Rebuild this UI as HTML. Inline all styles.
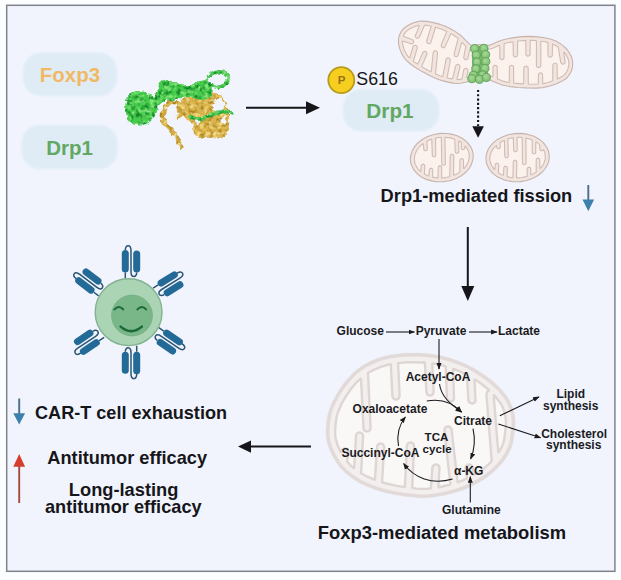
<!DOCTYPE html>
<html>
<head>
<meta charset="utf-8">
<title>Foxp3 Drp1 CAR-T schematic</title>
<style>
html,body{margin:0;padding:0;background:#fcfdfe;}
body{width:621px;height:580px;overflow:hidden;}
svg{display:block;}
text{font-family:"Liberation Sans",sans-serif;}
.b{font-weight:bold;}
.sm{font-size:12px;font-weight:bold;fill:#1b1b1f;}
</style>
</head>
<body>
<svg width="621" height="580" viewBox="0 0 621 580">
<defs>
  <marker id="ah" viewBox="0 0 10 10" refX="9" refY="5" markerWidth="6.6" markerHeight="6.6" orient="auto-start-reverse" markerUnits="userSpaceOnUse">
    <path d="M0,1.2 L10,5 L0,8.8 z" fill="#1b1b1f"/>
  </marker>
  <filter id="soft" x="-5%" y="-5%" width="110%" height="110%"><feGaussianBlur stdDeviation="0.5"/></filter>
  <filter id="soft2" x="-5%" y="-5%" width="110%" height="110%"><feGaussianBlur stdDeviation="1.2"/></filter>
  <filter id="protG" color-interpolation-filters="sRGB" x="-10%" y="-10%" width="120%" height="120%">
    <feTurbulence type="fractalNoise" baseFrequency="0.22" numOctaves="2" seed="7" result="n"/>
    <feDisplacementMap in="SourceGraphic" in2="n" scale="5.2" xChannelSelector="R" yChannelSelector="G" result="d"/>
    <feColorMatrix in="n" type="matrix" values="0 0 0 0 0.08  0 0 0 0 0.54  0 0 0 0 0.16  0 0 3.5 0 -1.55" result="dk"/>
    <feComposite in="dk" in2="d" operator="in" result="dkIn"/>
    <feColorMatrix in="n" type="matrix" values="0 0 0 0 0.53  0 0 0 0 0.90  0 0 0 0 0.49  0 3.5 0 0 -1.65" result="lt"/>
    <feComposite in="lt" in2="d" operator="in" result="ltIn"/>
    <feMerge><feMergeNode in="d"/><feMergeNode in="dkIn"/><feMergeNode in="ltIn"/></feMerge>
    <feGaussianBlur stdDeviation="0.5"/>
  </filter>
  <filter id="protY" color-interpolation-filters="sRGB" x="-10%" y="-10%" width="120%" height="120%">
    <feTurbulence type="fractalNoise" baseFrequency="0.22" numOctaves="2" seed="11" result="n"/>
    <feDisplacementMap in="SourceGraphic" in2="n" scale="5.2" xChannelSelector="R" yChannelSelector="G" result="d"/>
    <feColorMatrix in="n" type="matrix" values="0 0 0 0 0.66  0 0 0 0 0.51  0 0 0 0 0.13  0 0 3.5 0 -1.55" result="dk"/>
    <feComposite in="dk" in2="d" operator="in" result="dkIn"/>
    <feColorMatrix in="n" type="matrix" values="0 0 0 0 0.95  0 0 0 0 0.86  0 0 0 0 0.53  0 3.5 0 0 -1.65" result="lt"/>
    <feComposite in="lt" in2="d" operator="in" result="ltIn"/>
    <feMerge><feMergeNode in="d"/><feMergeNode in="dkIn"/><feMergeNode in="ltIn"/></feMerge>
    <feGaussianBlur stdDeviation="0.5"/>
  </filter>
  <radialGradient id="ballg" cx="45%" cy="40%" r="65%"><stop offset="0" stop-color="#a9d99b"/><stop offset="1" stop-color="#78ba69"/></radialGradient>
</defs>

<!-- frame -->
<rect x="0" y="0" width="621" height="580" fill="#fcfdfe"/>
<rect x="6.7" y="5.3" width="608.2" height="566" fill="#f1f4fd" stroke="#7f838b" stroke-width="1.5"/>

<!-- SECTION: labels-left -->
<g id="labels-left">
  <rect x="23" y="52.6" width="94" height="43.6" rx="18" fill="#dfecf6" filter="url(#soft2)"/>
  <text x="70" y="82" text-anchor="middle" class="b" font-size="20.5" fill="#f1b965">Foxp3</text>
  <rect x="21.5" y="125" width="96" height="44" rx="18" fill="#dfecf6" filter="url(#soft2)"/>
  <text x="69.5" y="155" text-anchor="middle" class="b" font-size="20.5" fill="#62a862">Drp1</text>
</g>

<!-- SECTION: protein -->
<g id="protein">
<g filter="url(#protY)">
<path d="M181.8,99.7 C184.2,98.1 187.9,96.6 191.4,95.8 C195.0,95.0 199.2,95.3 203.0,94.9 C206.9,94.4 211.2,92.3 214.6,92.9 C218.0,93.6 221.1,95.8 223.3,98.7 C225.6,101.6 227.2,106.1 228.1,110.3 C229.1,114.5 229.4,119.8 229.1,123.8 C228.8,127.9 228.0,132.0 226.2,134.5 C224.4,136.9 221.4,138.0 218.5,138.3 C215.6,138.7 211.7,136.4 208.8,136.4 C205.9,136.4 203.5,138.8 201.1,138.3 C198.7,137.8 195.8,135.9 194.3,133.5 C192.9,131.1 193.8,126.4 192.4,123.8 C190.9,121.3 188.0,119.8 185.6,118.0 C183.2,116.3 179.4,115.3 177.9,113.2 C176.5,111.1 176.3,107.7 176.9,105.5 C177.6,103.2 179.4,101.3 181.8,99.7Z M214.2,100.3 C215.5,98.7 218.7,97.9 220.4,98.7 C222.2,99.5 224.2,102.7 224.7,104.9 C225.2,107.1 224.7,110.4 223.5,111.9 C222.3,113.3 219.1,114.4 217.3,113.8 C215.5,113.1 213.2,110.2 212.7,108.0 C212.2,105.7 212.9,101.8 214.2,100.3Z M221.4,118.0 C222.2,117.3 224.6,116.6 225.4,117.3 C226.3,117.9 227.0,120.7 226.6,121.9 C226.2,123.1 224.3,124.3 223.3,124.2 C222.3,124.2 220.7,122.5 220.4,121.5 C220.1,120.5 220.5,118.7 221.4,118.0Z M195.3,120.0 C195.8,119.1 198.4,118.7 199.2,119.2 C199.9,119.7 200.4,122.2 199.9,123.1 C199.4,123.9 197.0,124.7 196.3,124.2 C195.5,123.7 194.8,120.8 195.3,120.0Z" fill="#dcb44a" fill-rule="evenodd"/>
<path d="M168.6,101.6 C167.9,102.9 165.0,106.3 164.0,109.3 C163.0,112.4 162.1,117.1 162.8,120.0 C163.6,122.9 166.7,124.4 168.6,126.7 C170.6,129.1 172.8,131.5 174.4,133.9 C176.0,136.3 177.1,139.0 178.3,141.2 C179.5,143.4 181.2,146.1 181.8,147.0" fill="none" stroke="#d4ac44" stroke-width="4.2" stroke-linecap="round"/>
<path d="M167.3,106.4 C168.4,105.6 171.8,101.8 174.0,101.6 C176.3,101.5 179.4,103.6 180.8,105.5 C182.3,107.3 183.2,110.7 182.7,112.6 C182.3,114.6 179.0,116.3 178.3,117.1" fill="none" stroke="#d4ac44" stroke-width="3" stroke-linecap="round"/>
</g>
<g filter="url(#protG)">
<path d="M126.7,98.7 C127.7,95.8 129.4,94.2 131.5,92.9 C133.6,91.6 136.7,91.0 139.3,91.0 C141.8,91.0 144.6,92.0 147.0,92.9 C149.4,93.9 152.0,97.1 153.7,96.8 C155.5,96.5 156.6,93.2 157.6,91.0 C158.6,88.7 158.3,85.1 159.5,83.3 C160.8,81.4 163.1,79.9 165.3,79.8 C167.6,79.6 170.3,81.5 173.1,82.3 C175.8,83.1 178.7,84.4 181.8,84.8 C184.8,85.2 188.5,85.4 191.4,84.8 C194.3,84.2 196.7,82.1 199.2,81.3 C201.6,80.6 204.0,79.9 205.9,80.4 C207.9,80.8 209.8,82.5 210.8,84.2 C211.7,86.0 212.0,88.7 211.7,91.0 C211.4,93.2 210.6,96.3 208.8,97.7 C207.0,99.2 203.7,99.8 201.1,99.7 C198.5,99.5 196.3,97.3 193.4,96.8 C190.5,96.2 186.9,95.9 183.7,96.4 C180.5,96.9 176.9,99.1 174.0,99.7 C171.1,100.2 168.7,99.0 166.3,99.7 C163.9,100.3 161.2,101.5 159.5,103.5 C157.9,105.6 157.9,109.5 156.6,112.2 C155.4,115.0 153.9,117.9 151.8,120.0 C149.7,122.1 146.8,124.0 144.1,124.8 C141.3,125.6 138.0,125.6 135.4,124.8 C132.8,124.0 130.3,122.4 128.6,120.0 C127.0,117.6 125.7,113.9 125.3,110.3 C125.0,106.8 125.7,101.6 126.7,98.7Z" fill="#45cb4a"/>
<path d="M205.9,81.3 C205.5,79.5 208.3,76.1 210.4,74.6 C212.5,73.0 215.8,72.3 218.5,72.0 C221.1,71.8 224.5,72.1 226.2,73.2 C227.9,74.3 228.7,76.6 228.5,78.4 C228.4,80.3 226.9,82.8 225.2,84.2 C223.6,85.7 220.5,86.9 218.5,87.1 C216.5,87.3 215.2,86.5 213.1,85.6 C211.0,84.6 206.4,83.2 205.9,81.3Z" fill="none" stroke="#48c64e" stroke-width="3.3"/>
<path d="M189.9,116.5 C191.4,116.9 196.0,119.1 199.2,119.0 C202.3,118.9 205.6,117.2 208.8,116.1 C212.0,115.0 215.6,113.4 218.5,112.6 C221.4,111.8 224.0,111.1 226.2,111.3 C228.5,111.4 231.0,113.0 232.0,113.4" fill="none" stroke="#48c64e" stroke-width="3.6" stroke-linecap="round"/>
</g>
</g><!--/protein-->

<!-- SECTION: arrows-main -->
<g id="arrows-main" stroke="#16161a" fill="#16161a">
  <line x1="246" y1="107.7" x2="308" y2="107.7" stroke-width="2"/>
  <path d="M306,101.2 L320,107.7 L306,114.2 z" stroke="none"/>
  <line x1="467.8" y1="227" x2="467.8" y2="288" stroke-width="2"/>
  <path d="M461.3,286 L467.8,301 L474.3,286 z" stroke="none"/>
  <line x1="311" y1="446.6" x2="250" y2="446.6" stroke-width="2"/>
  <path d="M251,440.4 L238,446.6 L251,452.8 z" stroke="none"/>
</g>

<!-- SECTION: drp1-right -->
<g id="drp1-right">
  <rect x="343" y="89.3" width="96" height="42" rx="18" fill="#dfecf6" filter="url(#soft2)"/>
  <text x="390" y="118.2" text-anchor="middle" class="b" font-size="20.8" fill="#62a862">Drp1</text>
  <circle cx="341.3" cy="80.1" r="13" fill="#f6ce1f" stroke="#b79c1c" stroke-width="1.8"/>
  <text x="341.5" y="84.2" text-anchor="middle" class="b" font-size="11.5" fill="#94701a">P</text>
  <text x="356.3" y="85.3" font-size="17.8" fill="#16161a">S616</text>
</g>

<!-- SECTION: mito-top -->
<g id="mito-top">
<path d="M398.5,43.2 L399.2,46.9 L400.0,49.6 L401.7,53.6 L403.1,56.1 L404.7,58.5 L406.6,60.6 L411.1,64.5 L415.0,67.2 L422.2,71.6 L428.6,75.1 L433.7,77.4 L438.5,79.4 L443.2,80.9 L447.9,82.1 L453.6,83.1 L457.4,83.5 L460.5,83.3 L467.5,81.8 L478.5,80.8 L483.2,79.4 L485.4,79.1 L487.4,79.3 L489.7,80.0 L498.3,83.6 L503.1,85.3 L510.3,86.6 L518.3,87.5 L526.2,87.9 L536.3,88.1 L542.6,87.6 L549.0,86.3 L556.0,83.9 L561.1,81.6 L565.5,79.0 L567.6,77.0 L570.1,73.6 L571.8,69.8 L572.6,66.0 L572.7,62.3 L572.0,58.5 L570.5,54.7 L567.5,50.0 L563.6,46.1 L560.0,43.4 L555.8,41.1 L551.2,39.3 L545.9,38.0 L538.1,36.9 L530.0,36.4 L522.0,36.6 L512.0,37.9 L503.2,39.7 L498.9,41.3 L491.5,44.5 L489.3,45.1 L485.6,45.4 L479.5,44.6 L474.5,45.5 L472.3,45.5 L470.7,44.9 L469.0,43.7 L460.5,35.2 L455.8,31.9 L450.5,28.8 L444.8,26.1 L440.2,24.4 L433.5,22.6 L426.9,21.4 L421.4,21.1 L419.1,21.3 L415.9,22.1 L412.9,23.1 L409.1,24.8 L404.8,27.5 L402.0,30.3 L400.9,31.9 L399.6,34.7 L398.5,38.7Z" fill="#f2e4de" stroke="#c6b4ac" stroke-width="1.1" stroke-linejoin="round"/><path d="M402.8,40.9 L402.5,41.0 L402.3,41.3 L402.5,43.7 L404.1,49.5 L406.4,54.1 L407.8,56.1 L409.3,57.7 L409.8,57.5 L413.2,46.3 L414.1,45.6 L415.2,45.3 L416.3,45.6 L417.0,46.5 L417.3,47.6 L417.2,48.1 L413.7,60.0 L413.2,61.0 L413.5,61.4 L417.3,64.0 L417.9,63.8 L423.1,52.2 L424.0,51.6 L424.6,51.4 L425.7,51.6 L426.6,52.3 L427.0,53.4 L426.8,54.5 L421.6,66.6 L425.6,69.0 L430.8,71.8 L431.3,71.4 L433.2,52.2 L433.9,51.3 L434.9,50.8 L436.1,50.9 L437.0,51.6 L437.5,52.6 L437.5,53.2 L435.5,73.8 L435.8,74.1 L439.8,75.7 L442.4,76.6 L442.8,76.4 L446.1,59.2 L446.4,58.7 L447.4,58.0 L448.5,57.9 L449.5,58.4 L450.2,59.4 L450.3,60.5 L447.1,77.6 L447.4,78.0 L452.1,78.9 L452.6,78.6 L455.7,66.0 L456.2,65.0 L457.2,64.4 L458.3,64.4 L459.3,64.9 L459.7,65.4 L460.0,66.5 L457.0,79.1 L457.1,79.4 L457.4,79.6 L459.9,79.4 L461.9,78.9 L463.9,69.5 L464.7,68.7 L465.8,68.3 L467.4,68.9 L468.1,70.4 L466.7,77.5 L467.0,77.9 L478.0,76.9 L482.3,75.6 L484.5,75.2 L488.0,75.4 L492.7,76.8 L492.9,76.4 L493.0,66.8 L494.0,65.5 L495.1,65.2 L496.6,65.8 L497.2,66.8 L497.4,78.9 L502.7,81.1 L505.6,81.9 L509.0,82.5 L509.3,82.1 L509.4,66.8 L510.0,65.8 L511.5,65.2 L513.0,65.8 L513.6,66.8 L513.7,82.8 L513.9,83.1 L522.6,83.9 L523.7,83.7 L523.8,68.3 L524.4,66.7 L526.0,66.1 L527.6,66.7 L528.2,68.3 L528.3,84.0 L534.7,84.2 L538.2,84.0 L538.4,74.4 L539.4,73.1 L540.5,72.8 L542.0,73.4 L542.6,74.4 L542.7,83.2 L543.2,83.6 L547.9,82.5 L552.8,80.8 L552.8,65.4 L553.1,64.3 L553.9,63.5 L554.4,63.3 L555.6,63.3 L556.6,63.8 L557.1,64.8 L557.2,78.5 L557.5,78.9 L562.0,76.6 L564.0,75.1 L565.5,73.5 L566.7,71.7 L567.7,69.7 L568.8,65.5 L568.9,62.6 L568.3,59.6 L566.4,55.4 L564.4,52.4 L563.9,52.3 L563.7,52.7 L565.2,62.2 L564.4,63.7 L562.8,64.2 L561.7,63.8 L560.8,62.4 L558.2,46.9 L554.2,44.7 L552.9,44.1 L552.5,44.2 L552.3,55.6 L551.3,56.9 L549.6,57.1 L548.6,56.5 L548.0,55.0 L547.9,42.6 L545.2,41.8 L541.6,41.2 L541.0,41.2 L540.8,41.5 L540.8,65.5 L540.2,67.1 L538.6,67.7 L537.0,67.1 L536.4,65.5 L536.4,41.0 L536.1,40.6 L530.6,40.3 L530.2,40.5 L530.1,54.6 L529.5,55.6 L528.0,56.2 L526.9,55.9 L526.1,55.1 L525.9,54.6 L525.8,40.8 L525.6,40.4 L520.4,40.7 L517.9,41.0 L517.6,41.2 L517.6,54.8 L517.0,56.3 L516.0,56.9 L514.3,56.7 L513.3,55.4 L513.1,41.9 L512.8,41.7 L510.8,42.1 L504.3,43.5 L504.1,43.8 L504.0,58.1 L503.4,59.1 L501.9,59.7 L500.4,59.1 L499.8,58.1 L499.7,45.7 L499.3,45.3 L492.7,48.2 L488.7,49.2 L485.2,49.3 L479.5,48.5 L474.2,49.5 L472.5,49.4 L470.1,49.0 L469.8,49.3 L467.9,58.5 L466.6,59.6 L464.9,59.5 L464.1,58.7 L463.7,57.1 L465.9,46.3 L462.0,42.3 L461.6,42.6 L458.1,55.6 L456.8,56.6 L455.1,56.4 L454.3,55.6 L454.1,54.0 L458.1,38.6 L458.1,38.2 L453.7,35.2 L451.2,33.6 L450.8,33.7 L445.0,46.9 L444.1,47.6 L442.4,47.6 L441.3,46.4 L441.1,45.3 L446.8,31.4 L441.9,29.2 L435.8,27.2 L435.5,27.5 L430.7,42.8 L430.3,43.2 L429.3,43.7 L428.1,43.7 L426.9,42.6 L426.7,41.0 L431.2,26.4 L430.9,26.0 L429.4,25.7 L425.1,25.1 L424.5,25.2 L419.5,36.8 L419.2,37.4 L418.3,38.0 L417.2,38.2 L416.1,37.7 L415.5,36.8 L415.3,35.7 L419.4,25.9 L419.2,25.3 L416.1,26.1 L410.9,28.3 L407.8,30.1 L405.5,32.1 L403.9,34.6 L403.3,36.3 L412.7,39.8 L413.5,40.6 L413.7,41.8 L413.3,42.8 L412.5,43.6 L411.4,43.8 L410.8,43.7Z" fill="#fbf2ee" stroke="#cfbdb5" stroke-width="1.1" stroke-linejoin="round"/>
</g><!--/mito-top-->
<g id="mito-small">
<path d="M473.2,156.0 L472.9,152.6 L471.9,149.4 L470.4,146.3 L467.0,142.1 L462.6,138.5 L457.2,135.8 L451.2,134.1 L446.9,133.5 L440.4,133.4 L433.9,134.5 L427.7,136.5 L422.2,139.5 L417.5,143.2 L415.0,146.1 L412.2,150.8 L410.6,155.8 L410.4,159.2 L410.5,160.9 L410.7,162.6 L411.7,165.8 L414.2,170.4 L417.9,174.4 L421.0,176.7 L426.4,179.4 L432.4,181.1 L436.7,181.7 L443.2,181.8 L449.7,180.7 L455.9,178.7 L461.4,175.7 L466.1,172.0 L469.7,167.6 L471.4,164.4 L473.0,159.4Z" fill="#f2e4de" stroke="#c6b4ac" stroke-width="1.1" stroke-linejoin="round"/><path d="M420.2,171.2 L420.6,171.2 L420.8,170.9 L421.3,165.4 L422.2,164.4 L423.6,164.3 L424.4,164.8 L424.8,165.7 L424.4,174.1 L427.8,175.8 L428.8,175.9 L429.3,169.5 L430.2,168.4 L431.5,168.3 L432.3,168.8 L432.8,169.6 L432.6,177.1 L435.1,177.6 L437.6,177.9 L437.9,177.5 L438.3,167.0 L439.1,165.9 L440.5,165.8 L441.3,166.3 L441.8,167.5 L441.6,177.8 L441.9,177.9 L444.9,177.7 L449.6,176.7 L449.8,176.4 L450.2,156.0 L450.8,154.7 L452.0,154.2 L453.3,154.8 L453.8,156.0 L453.5,174.8 L453.7,175.2 L454.3,175.1 L457.7,173.4 L459.8,172.0 L460.0,160.5 L460.5,159.2 L461.4,158.8 L462.3,158.8 L463.1,159.2 L463.5,160.1 L463.5,168.0 L463.7,168.4 L464.1,168.4 L464.5,168.0 L467.2,164.1 L468.4,161.4 L469.3,157.4 L469.0,153.4 L468.3,150.8 L467.0,148.3 L465.4,146.1 L464.9,146.4 L464.7,148.5 L464.2,149.3 L462.9,149.8 L461.7,149.2 L461.2,147.9 L461.4,142.5 L458.9,141.0 L458.5,141.4 L458.8,151.9 L458.3,152.7 L457.5,153.2 L456.1,153.1 L455.5,152.4 L455.2,151.6 L454.8,139.2 L450.4,137.9 L445.1,137.3 L444.9,137.7 L445.4,163.5 L445.2,164.4 L444.5,165.0 L443.2,165.2 L442.1,164.4 L441.8,163.5 L441.3,137.5 L440.9,137.3 L438.7,137.5 L435.8,138.1 L435.5,138.3 L435.8,155.0 L435.3,156.2 L434.5,156.7 L433.1,156.6 L432.3,155.5 L431.8,139.6 L431.4,139.3 L429.3,140.1 L427.0,141.3 L427.3,148.9 L426.8,150.2 L426.0,150.7 L425.1,150.8 L424.0,150.0 L423.7,149.1 L423.5,144.0 L423.3,143.7 L423.0,143.7 L420.3,146.0 L418.1,148.5 L416.4,151.1 L414.8,155.1 L414.3,159.1 L414.9,163.1 L416.6,166.9 L418.3,169.3Z" fill="#fbf2ee" stroke="#cfbdb5" stroke-width="1.1" stroke-linejoin="round"/>
<path d="M549.2,155.4 L549.0,153.7 L548.2,150.4 L546.7,147.3 L543.5,142.9 L539.2,139.2 L533.9,136.3 L527.9,134.4 L521.4,133.4 L514.8,133.6 L508.3,134.7 L502.2,136.9 L496.8,139.9 L493.7,142.4 L489.9,146.7 L488.0,149.8 L486.3,154.7 L486.1,156.4 L486.0,159.8 L486.5,163.1 L487.0,164.8 L489.4,169.4 L493.0,173.6 L497.7,177.0 L503.3,179.6 L507.3,180.8 L513.8,181.8 L520.4,181.6 L526.9,180.5 L533.0,178.3 L538.4,175.3 L541.5,172.8 L545.3,168.5 L547.9,163.8 L548.5,162.1 L549.1,158.8Z" fill="#f2e4de" stroke="#c6b4ac" stroke-width="1.1" stroke-linejoin="round"/><path d="M494.2,169.2 L494.6,169.4 L494.9,169.1 L495.2,164.9 L495.5,164.0 L496.7,163.2 L498.0,163.5 L498.6,164.2 L498.8,165.1 L498.3,172.7 L501.2,174.5 L503.2,175.3 L503.5,174.9 L503.8,167.5 L504.7,166.4 L505.6,166.2 L506.4,166.5 L507.1,167.2 L507.3,168.0 L507.1,176.6 L510.1,177.4 L512.6,177.7 L512.9,177.3 L513.3,161.5 L514.1,160.4 L515.5,160.3 L516.3,160.8 L516.8,162.0 L516.5,177.7 L518.0,177.9 L522.0,177.5 L526.9,176.4 L527.2,176.0 L527.2,169.0 L527.4,168.1 L528.1,167.4 L529.5,167.3 L530.3,167.7 L530.7,168.5 L530.8,174.4 L531.0,174.8 L533.1,173.9 L536.2,172.0 L536.2,160.0 L536.4,159.1 L537.1,158.4 L538.0,158.2 L538.9,158.4 L539.7,159.5 L539.9,168.3 L540.5,168.3 L542.1,166.3 L543.7,163.7 L545.1,159.7 L545.3,155.7 L544.5,151.7 L543.5,149.8 L541.9,150.8 L541.0,150.7 L540.2,150.2 L539.7,148.9 L539.8,144.8 L538.3,143.4 L536.2,142.0 L535.8,142.4 L535.7,152.5 L535.3,153.3 L534.5,153.7 L533.1,153.6 L532.4,152.9 L532.2,152.0 L532.2,140.0 L528.9,138.7 L526.0,138.1 L525.9,138.5 L526.1,163.0 L525.9,163.9 L525.2,164.5 L523.8,164.7 L522.8,163.9 L522.5,163.0 L522.2,137.6 L521.9,137.4 L519.2,137.3 L517.3,137.3 L517.0,137.5 L517.2,150.0 L516.7,151.2 L515.4,151.8 L514.2,151.3 L513.7,150.5 L513.3,137.9 L512.9,137.7 L508.2,138.8 L507.9,139.2 L508.3,155.9 L508.1,156.9 L507.4,157.5 L506.5,157.8 L505.6,157.6 L504.8,156.5 L504.4,140.8 L504.1,140.4 L502.2,141.2 L500.2,142.5 L500.3,146.9 L499.8,148.2 L498.6,148.8 L497.3,148.3 L496.8,147.5 L496.6,145.7 L496.1,145.5 L493.1,148.9 L491.5,151.5 L490.1,155.5 L489.8,158.2 L490.0,160.8 L491.2,164.8 L492.6,167.2Z" fill="#fbf2ee" stroke="#cfbdb5" stroke-width="1.1" stroke-linejoin="round"/>
</g><!--/mito-small-->

<g id="balls"><rect x="472" y="46" width="16" height="34" rx="4" fill="#7fbe71"/><g fill="url(#ballg)" stroke="#5ba154" stroke-width="0.9"><circle cx="474.6" cy="48.6" r="4.1"/><circle cx="483.9" cy="48.4" r="4.1"/><circle cx="476.3" cy="55.2" r="4.1"/><circle cx="485.6" cy="54.6" r="4.1"/><circle cx="476.9" cy="62" r="4.1"/><circle cx="485.8" cy="61.6" r="4.1"/><circle cx="475.8" cy="68.8" r="4.1"/><circle cx="484.9" cy="68.4" r="4.1"/><circle cx="473.3" cy="75.4" r="4.1"/><circle cx="482.6" cy="75" r="4.1"/><circle cx="471.9" cy="78.6" r="4.1"/><circle cx="479.4" cy="79.3" r="4.1"/><circle cx="486.3" cy="77.4" r="4.1"/></g></g>
<g id="dotarrow"><line x1="478.1" y1="90" x2="478.1" y2="126" stroke="#16161a" stroke-width="2.1" stroke-dasharray="2.1 2.17"/><path d="M472.3,126.2 L478.1,137.8 L483.9,126.2 z" fill="#16161a"/></g>
<!-- SECTION: fission-label -->
<g id="fission-label">
  <text x="380.6" y="201.5" class="b" font-size="18.25" fill="#16161a">Drp1-mediated fission</text>
  <line x1="588.3" y1="185" x2="588.3" y2="201" stroke="#4b6f8c" stroke-width="1.9"/>
  <path d="M582.5,199.6 L588.3,211.3 L594.1,199.6 z" fill="#3d80ad"/>
</g>

<!-- SECTION: cart -->
<g id="cart">
<g transform="translate(125.3,278.5) rotate(0)"><path d="M0,0 L0,-6 M0,-28 C0,-34.5 5.7,-34.5 5.7,-28 L5.7,-6.5 C5.7,-0.5 11.4,-0.5 11.4,-6" fill="none" stroke="#2b5573" stroke-width="1.5"/><rect x="-3.5" y="-28.5" width="7" height="22.5" rx="3.5" fill="#236a97"/><rect x="7.9" y="-28" width="7" height="22" rx="3.5" fill="#236a97"/></g>
<g transform="translate(153.1,288.1) rotate(58)"><path d="M0,0 L0,-6 M0,-28 C0,-34.5 5.7,-34.5 5.7,-28 L5.7,-6.5 C5.7,-0.5 11.4,-0.5 11.4,-6" fill="none" stroke="#2b5573" stroke-width="1.5"/><rect x="-3.5" y="-28.5" width="7" height="22.5" rx="3.5" fill="#236a97"/><rect x="7.9" y="-28" width="7" height="22" rx="3.5" fill="#236a97"/></g>
<g transform="translate(158.8,327.7) rotate(124.4)"><path d="M0,0 L0,-6 M0,-28 C0,-34.5 5.7,-34.5 5.7,-28 L5.7,-6.5 C5.7,-0.5 11.4,-0.5 11.4,-6" fill="none" stroke="#2b5573" stroke-width="1.5"/><rect x="-3.5" y="-28.5" width="7" height="22.5" rx="3.5" fill="#236a97"/><rect x="7.9" y="-28" width="7" height="22" rx="3.5" fill="#236a97"/></g>
<g transform="translate(136.7,345.8) rotate(180)"><path d="M0,0 L0,-6 M0,-28 C0,-34.5 5.7,-34.5 5.7,-28 L5.7,-6.5 C5.7,-0.5 11.4,-0.5 11.4,-6" fill="none" stroke="#2b5573" stroke-width="1.5"/><rect x="-3.5" y="-28.5" width="7" height="22.5" rx="3.5" fill="#236a97"/><rect x="7.9" y="-28" width="7" height="22" rx="3.5" fill="#236a97"/></g>
<g transform="translate(104.2,337.4) rotate(236.2)"><path d="M0,0 L0,-6 M0,-28 C0,-34.5 5.7,-34.5 5.7,-28 L5.7,-6.5 C5.7,-0.5 11.4,-0.5 11.4,-6" fill="none" stroke="#2b5573" stroke-width="1.5"/><rect x="-3.5" y="-28.5" width="7" height="22.5" rx="3.5" fill="#236a97"/><rect x="7.9" y="-28" width="7" height="22" rx="3.5" fill="#236a97"/></g>
<g transform="translate(98.6,295.9) rotate(-52.6)"><path d="M0,0 L0,-6 M0,-28 C0,-34.5 5.7,-34.5 5.7,-28 L5.7,-6.5 C5.7,-0.5 11.4,-0.5 11.4,-6" fill="none" stroke="#2b5573" stroke-width="1.5"/><rect x="-3.5" y="-28.5" width="7" height="22.5" rx="3.5" fill="#236a97"/><rect x="7.9" y="-28" width="7" height="22" rx="3.5" fill="#236a97"/></g>
<circle cx="128.6" cy="312.2" r="33.4" fill="#abd4b4" stroke="#82b291" stroke-width="1.4"/>
<circle cx="132" cy="315.5" r="20.4" fill="#79b789" stroke="#70ad80" stroke-width="0.8"/>
<g fill="none" stroke="#1d683a" stroke-width="2.1" stroke-linecap="round"><path d="M114.5,309.4 Q118.8,304.6 123.2,309.4"/><path d="M137.4,309.4 Q141.8,304.6 146.1,309.4"/><path d="M120.6,326.6 Q131.2,335.6 141.9,326.6" stroke-width="2.5"/></g>
</g><!--/cart-->

<!-- SECTION: outcomes -->
<g id="outcomes">
  <line x1="19.2" y1="398.5" x2="19.2" y2="415" stroke="#4b6f8c" stroke-width="1.9"/>
  <path d="M13.3,413.2 L19.2,424.4 L25.1,413.2 z" fill="#3d80ad"/>
  <text x="35" y="419" class="b" font-size="18.1" fill="#16161a">CAR-T cell exhaustion</text>
  <line x1="19.2" y1="503" x2="19.2" y2="465" stroke="#a34a40" stroke-width="1.9"/>
  <path d="M13.3,466.8 L19.2,454 L25.1,466.8 z" fill="#d53d2c"/>
  <text x="127.2" y="463.6" text-anchor="middle" class="b" font-size="18.2" fill="#16161a">Antitumor efficacy</text>
  <text x="123.6" y="495.5" text-anchor="middle" class="b" font-size="18.25" fill="#16161a">Long-lasting</text>
  <text x="123.3" y="513.1" text-anchor="middle" class="b" font-size="18.2" fill="#16161a">antitumor efficacy</text>
</g>

<!-- SECTION: mito-big -->
<g id="mito-big">
<path d="M326.2,428.0 L326.1,434.8 L327.0,441.3 L329.2,448.5 L332.5,455.8 L336.9,463.2 L340.5,467.9 L344.6,472.2 L351.8,478.0 L359.8,483.0 L365.6,485.8 L374.8,489.4 L383.9,492.2 L394.1,494.5 L407.2,496.5 L420.0,497.8 L426.1,497.8 L433.5,497.1 L444.1,495.3 L454.9,492.6 L462.9,490.0 L471.0,486.5 L479.4,482.1 L486.6,477.5 L492.2,473.2 L499.1,466.5 L503.9,460.8 L507.8,454.7 L511.0,448.2 L512.5,443.8 L513.7,437.3 L514.9,426.4 L515.0,420.0 L514.2,413.9 L513.2,409.9 L511.9,406.1 L509.3,400.4 L505.7,394.8 L502.6,391.0 L499.1,387.2 L493.4,381.8 L486.8,376.7 L476.6,369.9 L468.3,365.3 L460.2,361.8 L449.5,358.1 L441.5,355.9 L433.5,354.4 L425.6,353.6 L416.9,353.2 L407.1,353.3 L400.5,353.7 L390.8,354.9 L384.4,356.3 L377.9,358.3 L371.2,361.1 L364.8,364.3 L359.2,368.0 L354.1,372.1 L347.4,379.0 L343.2,384.1 L337.7,392.4 L333.2,400.4 L329.7,408.5 L328.1,414.0 L327.0,419.8Z" fill="#e1dad8" stroke="#e1dad8" stroke-width="0.5" stroke-linejoin="round" filter="url(#soft)"/><path d="M329.6,428.2 L329.5,434.6 L330.3,440.6 L332.4,447.3 L335.5,454.2 L339.7,461.2 L343.1,465.7 L346.9,469.7 L353.7,475.2 L361.4,480.0 L367.0,482.7 L375.9,486.2 L384.8,489.0 L394.7,491.2 L407.7,493.2 L420.2,494.4 L425.9,494.4 L433.1,493.7 L443.5,492.0 L451.3,490.1 L461.7,486.8 L469.6,483.5 L477.7,479.1 L484.6,474.7 L490.0,470.6 L496.6,464.2 L501.2,458.8 L504.9,453.0 L507.8,446.9 L509.2,443.0 L510.3,436.9 L511.5,426.2 L511.6,420.2 L510.9,414.6 L510.0,410.9 L508.7,407.3 L507.2,403.8 L505.3,400.3 L501.5,395.0 L496.7,389.6 L491.2,384.4 L484.8,379.4 L474.8,372.8 L466.8,368.3 L459.0,364.9 L448.5,361.3 L440.7,359.2 L433.0,357.7 L425.4,357.0 L416.9,356.6 L407.2,356.7 L400.8,357.1 L391.4,358.3 L385.3,359.6 L379.1,361.5 L372.7,364.2 L366.5,367.3 L361.2,370.7 L356.4,374.6 L350.0,381.2 L346.0,386.2 L340.6,394.2 L336.2,402.0 L332.9,409.6 L331.4,414.8 L330.4,420.3Z" fill="#f3efee" filter="url(#soft)"/><path d="M494.4,395.4 L494.0,395.2 L493.7,395.7 L498.2,451.9 L498.6,452.3 L500.0,450.3 L501.9,446.6 L503.3,443.1 L504.1,439.9 L505.7,427.7 L506.0,420.5 L505.0,414.1 L502.9,407.8 L501.4,404.8 L499.5,401.7Z M335.1,430.7 L335.2,435.9 L335.8,439.3 L337.6,445.3 L339.4,449.5 L340.6,451.9 L341.0,452.1 L341.3,451.9 L341.7,450.5 L342.2,449.7 L343.7,448.6 L344.7,448.4 L346.5,448.7 L347.9,449.9 L348.4,450.7 L348.6,452.6 L347.1,461.6 L350.8,465.6 L353.7,468.1 L354.1,467.7 L356.1,434.9 L357.1,433.3 L358.8,432.5 L360.6,432.6 L362.2,433.6 L363.0,435.3 L363.1,436.2 L361.1,473.2 L366.6,476.3 L374.5,479.7 L375.0,479.3 L377.1,445.9 L378.1,444.3 L379.8,443.5 L381.6,443.6 L383.2,444.6 L384.0,446.3 L384.1,447.2 L382.1,482.2 L382.4,482.4 L386.3,483.5 L395.7,485.6 L404.4,487.1 L404.9,486.8 L406.9,445.8 L407.5,444.1 L408.1,443.3 L409.7,442.5 L410.7,442.4 L412.4,443.0 L413.2,443.6 L413.7,444.4 L414.1,446.2 L412.2,488.0 L416.9,488.6 L423.3,488.9 L427.8,488.7 L430.9,488.2 L432.4,467.7 L433.0,466.0 L433.6,465.3 L435.3,464.5 L437.2,464.6 L438.0,465.0 L439.2,466.4 L439.5,467.3 L438.4,487.0 L438.8,487.2 L442.4,486.5 L450.4,484.5 L444.4,430.4 L444.7,428.6 L445.9,427.1 L446.7,426.6 L448.5,426.4 L449.4,426.7 L450.9,427.9 L451.6,429.6 L457.6,482.1 L458.0,482.2 L462.2,480.6 L467.0,478.4 L465.4,467.7 L466.1,465.9 L467.5,464.7 L469.4,464.4 L471.1,465.1 L471.8,465.7 L472.6,467.4 L473.7,474.4 L474.2,474.7 L479.5,471.5 L483.2,468.9 L487.9,465.0 L491.7,461.2 L486.4,394.3 L486.8,392.4 L488.0,391.0 L489.0,390.5 L489.0,390.0 L481.5,384.0 L475.1,379.6 L474.6,379.6 L474.5,380.0 L475.5,400.7 L474.7,402.4 L473.1,403.4 L472.2,403.6 L470.4,403.2 L469.0,402.0 L468.4,400.2 L466.9,374.8 L459.4,371.1 L453.4,368.9 L453.1,369.3 L454.0,398.8 L453.1,400.5 L451.6,401.4 L450.6,401.6 L448.8,401.2 L447.5,399.9 L446.9,398.1 L445.7,366.5 L444.4,365.9 L437.0,364.1 L432.6,363.4 L432.2,363.7 L433.6,391.8 L433.2,393.6 L432.7,394.4 L431.1,395.4 L430.2,395.6 L428.4,395.2 L427.6,394.7 L427.0,393.9 L426.4,392.2 L424.9,362.9 L424.6,362.5 L410.6,362.2 L404.4,362.4 L398.1,363.1 L399.6,395.8 L399.2,397.6 L398.7,398.4 L397.1,399.4 L395.2,399.5 L394.3,399.2 L393.0,397.9 L392.4,396.2 L390.8,364.2 L390.4,364.2 L386.7,365.0 L381.0,366.8 L375.0,369.3 L368.1,372.8 L368.0,373.2 L370.6,427.8 L370.2,429.6 L368.9,431.0 L368.1,431.4 L366.2,431.5 L364.6,430.7 L363.6,429.1 L361.0,378.9 L360.6,378.5 L356.1,382.8 L350.5,389.5 L345.4,397.1 L341.2,404.5 L338.2,411.5 L336.8,416.1 L335.6,423.6Z" fill="#faf7f7" stroke="#ded6d3" stroke-width="2.4" stroke-linejoin="round" filter="url(#soft)"/>
</g><!--/mito-big-->

<!-- SECTION: pathway -->
<g id="pathway">
  <g class="sm">
  <text x="336.6" y="335.3">Glucose</text>
  <text x="415.7" y="335.3">Pyruvate</text>
  <text x="498" y="335.3">Lactate</text>
  <text x="405.7" y="381">Acetyl-CoA</text>
  <text x="352.6" y="413.1">Oxaloacetate</text>
  <text x="454" y="424.6">Citrate</text>
  <text x="424.6" y="441.4" font-size="11.6">TCA</text>
  <text x="422.6" y="452.8" font-size="11.6">cycle</text>
  <text x="341.4" y="457">Succinyl-CoA</text>
  <text x="454" y="474.8">α-KG</text>
  <text x="442" y="513.6">Glutamine</text>
  <text x="570.8" y="398.3" text-anchor="middle">Lipid</text>
  <text x="570.7" y="410.2" text-anchor="middle">synthesis</text>
  <text x="574.2" y="437.7" text-anchor="middle">Cholesterol</text>
  <text x="573.7" y="449" text-anchor="middle">synthesis</text>
  </g>
  <g fill="none" stroke="#1b1b1f" stroke-width="1.1" marker-end="url(#ah)">
    <line x1="386" y1="332" x2="414.5" y2="332"/>
    <line x1="469" y1="332" x2="497" y2="332"/>
    <line x1="439" y1="339" x2="439" y2="369"/>
    <line x1="470.3" y1="502.4" x2="470.3" y2="476.7"/>
    <line x1="499.8" y1="415.8" x2="539" y2="396.9"/>
    <line x1="498.3" y1="424" x2="540.6" y2="437.7"/>
    <path d="M439.5,384 C441,396 450,404 461.5,412"/>
    <path d="M426.8,401 C440,398.5 452,402 461.5,412"/>
    <path d="M473,428.7 C475.5,440 474.5,450 470.6,459"/>
    <path d="M452.6,479 C432,485 414,478 403.6,463.5"/>
    <path d="M398.5,446 C396.5,435 399,425 405.4,417"/>
  </g>
</g>

<text x="317.8" y="539" class="b" font-size="18.4" fill="#16161a">Foxp3-mediated metabolism</text>
</svg>
</body>
</html>
